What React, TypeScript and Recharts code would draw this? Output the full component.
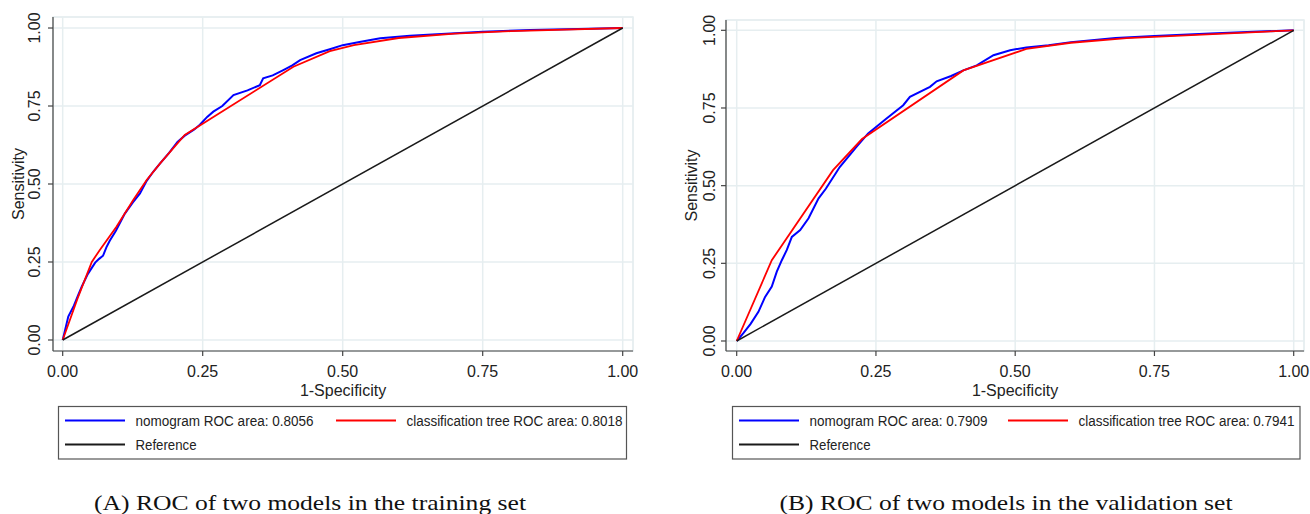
import React from 'react';
import { LineChart, Line, XAxis, YAxis, CartesianGrid, ReferenceArea, Customized } from 'recharts';

// ---------- data (1-specificity, sensitivity) ----------
const TICKS = [0, 0.25, 0.5, 0.75, 1];

const trainNomogram: [number, number][] = [
  [0, 0], [0.004, 0.03], [0.01, 0.075], [0.02, 0.11], [0.028, 0.145], [0.034, 0.171],
  [0.045, 0.212], [0.058, 0.248], [0.065, 0.26], [0.072, 0.27], [0.078, 0.297],
  [0.084, 0.318], [0.095, 0.35], [0.111, 0.405], [0.125, 0.44], [0.138, 0.47],
  [0.15, 0.51], [0.162, 0.54], [0.174, 0.566], [0.19, 0.6], [0.205, 0.635],
  [0.218, 0.655], [0.235, 0.675], [0.245, 0.69], [0.258, 0.715], [0.269, 0.732],
  [0.285, 0.75], [0.305, 0.785], [0.33, 0.8], [0.352, 0.817], [0.358, 0.839],
  [0.375, 0.848], [0.394, 0.865], [0.41, 0.88], [0.424, 0.897], [0.453, 0.919],
  [0.477, 0.932], [0.5, 0.945], [0.53, 0.955], [0.567, 0.967], [0.62, 0.975],
  [0.668, 0.98], [0.75, 0.988], [0.835, 0.994], [0.92, 0.997], [1, 1],
];

const trainTree: [number, number][] = [
  [0, 0], [0.028, 0.14], [0.052, 0.25], [0.066, 0.288], [0.096, 0.363],
  [0.126, 0.449], [0.15, 0.513], [0.174, 0.566], [0.218, 0.657], [0.412, 0.876],
  [0.477, 0.926], [0.52, 0.945], [0.6, 0.968], [0.7, 0.982], [0.8, 0.99], [1, 1],
];

const validNomogram: [number, number][] = [
  [0, 0], [0.012, 0.025], [0.025, 0.055], [0.039, 0.094], [0.051, 0.142],
  [0.063, 0.175], [0.072, 0.223], [0.081, 0.26], [0.09, 0.293], [0.099, 0.335],
  [0.114, 0.357], [0.129, 0.395], [0.147, 0.459], [0.16, 0.49], [0.185, 0.56],
  [0.215, 0.625], [0.236, 0.668], [0.269, 0.716], [0.299, 0.759], [0.311, 0.786],
  [0.347, 0.818], [0.359, 0.836], [0.385, 0.853], [0.407, 0.871], [0.431, 0.887],
  [0.461, 0.92], [0.491, 0.936], [0.52, 0.945], [0.56, 0.952], [0.6, 0.962],
  [0.68, 0.975], [0.75, 0.982], [0.85, 0.99], [1, 1],
];

const validTree: [number, number][] = [
  [0, 0], [0.063, 0.26], [0.173, 0.55], [0.225, 0.65], [0.407, 0.871],
  [0.52, 0.94], [0.6, 0.96], [0.7, 0.975], [1, 1],
];

const referenceLine: [number, number][] = [[0, 0], [1, 1]];

const legendLabels = {
  trainNomogram: 'nomogram ROC area: 0.8056',
  trainTree: 'classification tree ROC area: 0.8018',
  validNomogram: 'nomogram ROC area: 0.7909',
  validTree: 'classification tree ROC area: 0.7941',
  reference: 'Reference',
};
const captions = {
  a: '(A) ROC of two models in the training set',
  b: '(B) ROC of two models in the validation set',
};

// ---------- styling ----------
const BLUE = '#0000ff';
const RED = '#ff0000';
const BLACK = '#1a1a1a';
const GRID = '#e6eef0';
const AXIS = '#444';
const TEXT = '#222';
const SANS = '"Liberation Sans", Arial, sans-serif';
const SERIF = '"Liberation Serif", "Times New Roman", serif';

const toPts = (a: [number, number][]) => a.map(([x, y]) => ({ x, y }));

type PanelProps = {
  left: number;
  plotLeft: number;
  plotRight: number;
  plotTop: number;
  xDomain: [number, number];
  yDomain: [number, number];
  yTickBaseline: number;
  yTitleBaseline: number;
  nomogram: [number, number][];
  tree: [number, number][];
};

const W = 655;
const H = 400;
const PLOT_BOTTOM = 351;

function Panel(p: PanelProps) {
  const plotCx = (p.plotLeft + p.plotRight) / 2;
  const plotCy = (p.plotTop + PLOT_BOTTOM) / 2;
  const XTick = (props: any) => (
    <text x={props.x} y={376.5} textAnchor="middle" fontSize={16} fontFamily={SANS} fill={TEXT}>
      {Number(props.payload.value).toFixed(2)}
    </text>
  );
  const YTick = (props: any) => (
    <text
      x={p.yTickBaseline}
      y={props.y}
      transform={`rotate(-90, ${p.yTickBaseline}, ${props.y})`}
      textAnchor="middle"
      fontSize={16}
      fontFamily={SANS}
      fill={TEXT}
    >
      {Number(props.payload.value).toFixed(2)}
    </text>
  );
  const Titles = () => (
    <g>
      <text x={plotCx} y={395.5} textAnchor="middle" fontSize={16} fontFamily={SANS} fill={TEXT}>
        1-Specificity
      </text>
      <text
        x={p.yTitleBaseline}
        y={plotCy}
        transform={`rotate(-90, ${p.yTitleBaseline}, ${plotCy})`}
        textAnchor="middle"
        fontSize={16}
        fontFamily={SANS}
        fill={TEXT}
      >
        Sensitivity
      </text>
    </g>
  );
  return (
    <div style={{ position: 'absolute', left: p.left, top: 0, width: W, height: H }}>
      <LineChart
        width={W}
        height={H}
        margin={{ top: p.plotTop, right: W - p.plotRight, bottom: 0, left: 0 }}
      >
        <CartesianGrid stroke={GRID} strokeWidth={1.5} />
        <ReferenceArea
          x1={p.xDomain[0]}
          x2={p.xDomain[1]}
          y1={p.yDomain[0]}
          y2={p.yDomain[1]}
          fill="none"
          stroke={GRID}
          strokeWidth={1.5}
          ifOverflow="visible"
        />
        <XAxis
          type="number"
          dataKey="x"
          domain={p.xDomain}
          ticks={TICKS}
          allowDataOverflow
          height={H - PLOT_BOTTOM}
          tickSize={5}
          axisLine={{ stroke: AXIS, strokeWidth: 1.2 }}
          tickLine={{ stroke: AXIS, strokeWidth: 1.2 }}
          tick={<XTick />}
          interval={0}
        />
        <YAxis
          type="number"
          dataKey="y"
          domain={p.yDomain}
          ticks={TICKS}
          allowDataOverflow
          width={p.plotLeft}
          tickSize={5}
          axisLine={{ stroke: AXIS, strokeWidth: 1.2 }}
          tickLine={{ stroke: AXIS, strokeWidth: 1.2 }}
          tick={<YTick />}
          interval={0}
        />
        <Line
          data={toPts(p.nomogram)}
          dataKey="y"
          type="linear"
          stroke={BLUE}
          strokeWidth={2}
          dot={false}
          activeDot={false}
          isAnimationActive={false}
        />
        <Line
          data={toPts(p.tree)}
          dataKey="y"
          type="linear"
          stroke={RED}
          strokeWidth={1.8}
          dot={false}
          activeDot={false}
          isAnimationActive={false}
        />
        <Line
          data={toPts(referenceLine)}
          dataKey="y"
          type="linear"
          stroke={BLACK}
          strokeWidth={1.5}
          dot={false}
          activeDot={false}
          isAnimationActive={false}
        />
        <Customized component={Titles} />
      </LineChart>
    </div>
  );
}

function LegendBox(props: {
  x: number;
  w: number;
  secondX: number;
  labelA: string;
  labelB: string;
}) {
  const { x, w, secondX, labelA, labelB } = props;
  const row1 = 420.5;
  const row2 = 444.5;
  return (
    <g fontFamily={SANS} fontSize={14} fill={TEXT}>
      <rect x={x + 0.5} y={406.5} width={w} height={52.5} fill="#fff" stroke="#555" strokeWidth={1.2} />
      <line x1={x + 7} x2={x + 67} y1={row1} y2={row1} stroke={BLUE} strokeWidth={1.8} />
      <text x={x + 77.5} y={row1 + 5} textLength={178} lengthAdjust="spacingAndGlyphs">
        {labelA}
      </text>
      <line x1={secondX} x2={secondX + 60} y1={row1} y2={row1} stroke={RED} strokeWidth={1.8} />
      <text x={secondX + 70.5} y={row1 + 5} textLength={216} lengthAdjust="spacingAndGlyphs">
        {labelB}
      </text>
      <line x1={x + 7} x2={x + 67} y1={row2} y2={row2} stroke={BLACK} strokeWidth={1.8} />
      <text x={x + 77.5} y={row2 + 5} textLength={61} lengthAdjust="spacingAndGlyphs">
        {legendLabels.reference}
      </text>
    </g>
  );
}

export default function App() {
  return (
    <div
      style={{
        position: 'absolute',
        left: 0,
        top: 0,
        width: 1310,
        height: 514,
        background: '#fff',
        overflow: 'hidden',
      }}
    >
      <Panel
        left={0}
        plotLeft={53}
        plotRight={633}
        plotTop={17}
        xDomain={[-0.0173, 1.0184]}
        yDomain={[-0.0353, 1.0353]}
        yTickBaseline={40}
        yTitleBaseline={23.5}
        nomogram={trainNomogram}
        tree={trainTree}
      />
      <Panel
        left={655}
        plotLeft={71}
        plotRight={649}
        plotTop={20}
        xDomain={[-0.0192, 1.0185]}
        yDomain={[-0.0322, 1.0332]}
        yTickBaseline={60}
        yTitleBaseline={42}
        nomogram={validNomogram}
        tree={validTree}
      />
      <svg
        width={1310}
        height={514}
        style={{ position: 'absolute', left: 0, top: 0, pointerEvents: 'none' }}
      >
        <LegendBox
          x={58}
          w={568}
          secondX={336}
          labelA={legendLabels.trainNomogram}
          labelB={legendLabels.trainTree}
        />
        <LegendBox
          x={732}
          w={567.5}
          secondX={1008}
          labelA={legendLabels.validNomogram}
          labelB={legendLabels.validTree}
        />
        <text
          x={94}
          y={510}
          fontFamily={SERIF}
          fontSize={22}
          fill="#111"
          textLength={432}
          lengthAdjust="spacingAndGlyphs"
        >
          {captions.a}
        </text>
        <text
          x={779.5}
          y={510}
          fontFamily={SERIF}
          fontSize={22}
          fill="#111"
          textLength={453}
          lengthAdjust="spacingAndGlyphs"
        >
          {captions.b}
        </text>
      </svg>
    </div>
  );
}
